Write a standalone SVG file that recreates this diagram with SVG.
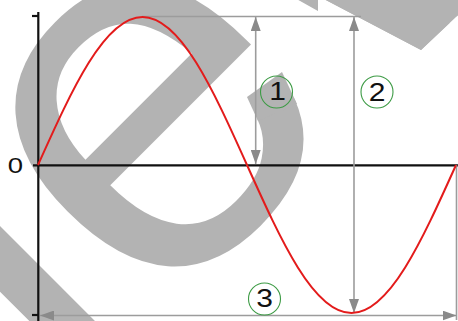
<svg xmlns="http://www.w3.org/2000/svg" width="458" height="321" viewBox="0 0 458 321">
<defs>
<marker id="arr" viewBox="0 0 14 10" refX="14" refY="5" markerWidth="14" markerHeight="10" markerUnits="userSpaceOnUse" orient="auto-start-reverse">
<path d="M0,0 L14,5 L0,10 z" fill="#8a8a8a"/>
</marker>
<style>
.dim{stroke:#9c9c9c;stroke-width:1.6;fill:none}
.ax{stroke:#111;stroke-width:2.2;fill:none}
.num{font-family:"Liberation Sans",Arial,sans-serif;fill:#111;text-anchor:middle}
.circ{fill:none;stroke:#3d9b45;stroke-width:1.1}
.wm{fill:#b3b3b3}
</style>
</defs>
<rect width="458" height="321" fill="#fff"/>
<g id="watermark">
<text class="wm" x="68.7" y="410.3" transform="rotate(-45 68.7 410.3)" font-family="Liberation Sans, Arial, sans-serif" font-size="528">iew</text>
<polygon fill="#fff" points="318,-4 421,50 458,15 458,66 405,66 318,16"/>
<polygon class="wm" points="326,0 421,50 456,17 458,15.5 458,0"/>
<polygon class="wm" points="247,97 282,72 297,104 258,121"/>
</g>
<g id="axes">
<line class="ax" x1="38.3" y1="12" x2="38.3" y2="321"/>
<line class="ax" x1="33" y1="165.3" x2="458" y2="165.3"/>
<line class="ax" x1="32" y1="16" x2="38" y2="16"/>
<line class="ax" x1="32" y1="315" x2="38" y2="315"/>
<text class="num" font-size="22" transform="translate(15.5,173) scale(1.25,1)">0</text>
</g>
<g id="connectors">
<line class="dim" x1="142" y1="16.5" x2="361" y2="16.5"/>
<line class="dim" x1="456.5" y1="165" x2="456.5" y2="320"/>
<line class="dim" x1="255.7" y1="17" x2="255.7" y2="164" marker-start="url(#arr)" marker-end="url(#arr)"/>
<line class="dim" x1="354" y1="17" x2="354" y2="313" marker-start="url(#arr)" marker-end="url(#arr)"/>
<line class="dim" x1="40" y1="315.5" x2="456.5" y2="315.5" marker-start="url(#arr)" marker-end="url(#arr)"/>
</g>
<g id="sine">
<path d="M38,165 C72.08,89.18 104.68,17 142.5,17 S212.92,89.18 247,165 S313.68,313 351.5,313 S421.92,240.82 456,165" fill="none" stroke="#e31b1b" stroke-width="2"/>
</g>
<g id="label1">
<circle class="circ" cx="276.5" cy="92" r="16"/>
<text class="num" font-size="25" transform="translate(277.5,100) scale(1.2,1)">1</text>
</g>
<g id="label2">
<circle class="circ" cx="377" cy="92" r="16"/>
<text class="num" font-size="25" transform="translate(377,101) scale(1.2,1)">2</text>
</g>
<g id="label3">
<circle class="circ" cx="264.5" cy="299" r="16"/>
<text class="num" font-size="25" transform="translate(264.5,307) scale(1.2,1)">3</text>
</g>
</svg>
